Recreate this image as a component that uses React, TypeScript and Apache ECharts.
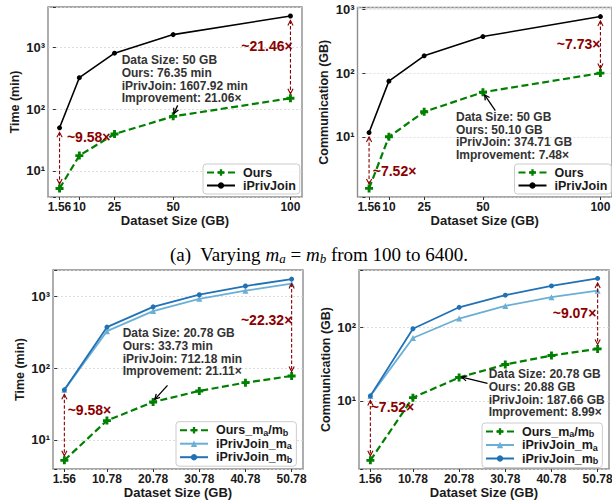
import React, { useEffect, useRef } from 'react';
import * as echarts from 'echarts';

const FONT = 'Liberation Sans, Arial, Helvetica, sans-serif';
const SERIF = 'Liberation Serif, Times New Roman, serif';

// ---------- data ----------
const sizesTop = [1.56, 10, 25, 50, 100];
const timeOursTop = [5.2, 17.7, 39.5, 76.35, 150];
const timeIPrivTop = [49.8, 323, 805, 1607.92, 3220];
const commOursTop = [1.55, 10.0, 24.7, 50.1, 100];
const commIPrivTop = [11.66, 74.8, 187, 374.71, 773];

const sizesBottom = [1.56, 10.78, 20.78, 30.78, 40.78, 50.78];
const timeOursBottom = [5.2, 18.6, 33.73, 48.1, 62.8, 77.8];
const timeIPrivMaBottom = [49.8, 327, 622, 922, 1197, 1496];
const timeIPrivMbBottom = [49.8, 372, 712.18, 1052, 1390, 1737];
const commOursBottom = [1.56, 11.1, 20.88, 31.3, 41.5, 51];
const commIPrivMaBottom = [11.73, 71.7, 132, 196, 258, 316];
const commIPrivMbBottom = [11.73, 96, 187.66, 274, 366, 463];

const ratioTimeTop = ['~9.58×', '~21.46×'];
const ratioCommTop = ['~7.52×', '~7.73×'];
const ratioTimeBottom = ['~9.58×', '~22.32×'];
const ratioCommBottom = ['~7.52×', '~9.07×'];

const infoTimeTop = ['Data Size: 50 GB', 'Ours: 76.35 min', 'iPrivJoin: 1607.92 min', 'Improvement: 21.06×'];
const infoCommTop = ['Data Size: 50 GB', 'Ours: 50.10 GB', 'iPrivJoin: 374.71 GB', 'Improvement: 7.48×'];
const infoTimeBottom = ['Data Size: 20.78 GB', 'Ours: 33.73 min', 'iPrivJoin: 712.18 min', 'Improvement: 21.11×'];
const infoCommBottom = ['Data Size: 20.78 GB', 'Ours: 20.88 GB', 'iPrivJoin: 187.66 GB', 'Improvement: 8.99×'];

const legendTop = ['Ours', 'iPrivJoin'];
const legendBottom = ['Ours_ma/mb', 'iPrivJoin_ma', 'iPrivJoin_mb'];

// ---------- styles ----------
const GREEN = '#008000';
const BLACK = '#000000';
const LIGHT_BLUE = '#6baed6';
const DARK_BLUE = '#2171b5';
const RED = '#8b0000';
const TEXT = '#1a1a1a';
const PLUS = 'path://M3.2,0H6.8V3.2H10V6.8H6.8V10H3.2V6.8H0V3.2H3.2Z';

const styleOf: Record<string, any> = {
  ours: { color: GREEN, symbol: PLUS, symbolSize: 8, lineType: [7, 3.5], width: 2.2 },
  black: { color: BLACK, symbol: 'circle', symbolSize: 5, lineType: 'solid', width: 1.6 },
  ma: { color: LIGHT_BLUE, symbol: 'triangle', symbolSize: 6, lineType: 'solid', width: 1.8 },
  mb: { color: DARK_BLUE, symbol: 'circle', symbolSize: 5, lineType: 'solid', width: 1.8 },
};

const panels = [
  {
    grid: { left: 48, top: 7, width: 254, height: 190 },
    xs: sizesTop, xMin: -3.36, xMax: 104.92, yMin: 3.78, yMax: 4500, yName: 'Time (min)',
    series: [
      { name: 'Ours', data: timeOursTop, kind: 'ours' },
      { name: 'iPrivJoin', data: timeIPrivTop, kind: 'black' },
    ],
    ours: timeOursTop, ipriv: timeIPrivTop, ratio: ratioTimeTop,
    leftOff: [7.4, 9], rightOff: [2.3, 30],
    info: infoTimeTop, infoIdx: 3, infoPos: [73.7, 53.3], infoLH: 12.7,
    tipOff: [0.8, -3], tailOff: [4.5, -11],
    legendPos: [203, 164], legendLH: 11, legendNames: legendTop,
  },
  {
    grid: { left: 357.5, top: 7.5, width: 254.5, height: 189.5 },
    xs: sizesTop, xMin: -3.36, xMax: 104.92, yMin: 1.135, yMax: 1072, yName: 'Communication (GB)',
    series: [
      { name: 'Ours', data: commOursTop, kind: 'ours' },
      { name: 'iPrivJoin', data: commIPrivTop, kind: 'black' },
    ],
    ours: commOursTop, ipriv: commIPrivTop, ratio: ratioCommTop,
    leftOff: [3.7, 38.4], rightOff: [0, 27.3],
    info: infoCommTop, infoIdx: 3, infoPos: [98.5, 109.2], infoLH: 12.8,
    tipOff: [1.7, 2.6], tailOff: [12.4, 18.3],
    legendPos: [514.5, 164], legendLH: 11, legendNames: legendTop,
  },
  {
    grid: { left: 53, top: 270, width: 250, height: 199 },
    xs: sizesBottom, xMin: -0.901, xMax: 53.241, yMin: 3.94, yMax: 2323, yName: 'Time (min)',
    series: [
      { name: 'Ours_ma/mb', data: timeOursBottom, kind: 'ours' },
      { name: 'iPrivJoin_ma', data: timeIPrivMaBottom, kind: 'ma' },
      { name: 'iPrivJoin_mb', data: timeIPrivMbBottom, kind: 'mb' },
    ],
    ours: timeOursBottom, ipriv: timeIPrivMbBottom, ratio: ratioTimeBottom,
    leftOff: [3.3, 20], rightOff: [0.7, 41],
    info: infoTimeBottom, infoIdx: 2, infoPos: [69.7, 63.3], infoLH: 12.6,
    tipOff: [1.7, -2.7], tailOff: [14.4, -16.7],
    legendPos: [176, 421.7], legendLH: 12, legendNames: legendBottom,
  },
  {
    grid: { left: 359, top: 270, width: 250, height: 199 },
    xs: sizesBottom, xMin: -0.901, xMax: 53.241, yMin: 1.19, yMax: 603, yName: 'Communication (GB)',
    series: [
      { name: 'Ours_ma/mb', data: commOursBottom, kind: 'ours' },
      { name: 'iPrivJoin_ma', data: commIPrivMaBottom, kind: 'ma' },
      { name: 'iPrivJoin_mb', data: commIPrivMbBottom, kind: 'mb' },
    ],
    ours: commOursBottom, ipriv: commIPrivMbBottom, ratio: ratioCommBottom,
    leftOff: [0.3, 11], rightOff: [-1.3, 34.3],
    info: infoCommBottom, infoIdx: 2, infoPos: [129.7, 104.3], infoLH: 12.7,
    tipOff: [2.7, -0.3], tailOff: [28.4, 6],
    legendPos: [482, 423], legendLH: 12, legendNames: legendBottom,
  },
];

const SUP: Record<number, string> = { 0: '⁰', 1: '¹', 2: '²', 3: '³', 4: '⁴' };

function arrowHead(tip: number[], from: number[], len: number, half: number, color: string, lw: number) {
  const dx = tip[0] - from[0];
  const dy = tip[1] - from[1];
  const d = Math.sqrt(dx * dx + dy * dy) || 1;
  const ux = dx / d, uy = dy / d;
  const bx = tip[0] - ux * len, by = tip[1] - uy * len;
  return {
    type: 'polyline',
    shape: { points: [[bx - uy * half, by + ux * half], [tip[0], tip[1]], [bx + uy * half, by - ux * half]] },
    style: { stroke: color, lineWidth: lw, fill: null },
  };
}

function buildOption() {
  const grid: any[] = [];
  const xAxis: any[] = [];
  const yAxis: any[] = [];
  const series: any[] = [];
  const legend: any[] = [];

  panels.forEach((p, i) => {
    grid.push({
      ...p.grid, show: true, borderColor: '#8c8c8c', borderWidth: 1.4,
      backgroundColor: 'transparent', containLabel: false, outerBoundsMode: 'none',
    });
    xAxis.push({
      type: 'value', gridIndex: i, min: p.xMin, max: p.xMax,
      name: 'Dataset Size (GB)', nameLocation: 'middle', nameGap: 16,
      nameTextStyle: { fontFamily: FONT, fontWeight: 'bold', fontSize: 13, color: TEXT },
      axisLine: { show: false },
      axisTick: { show: true, customValues: p.xs, length: 3, lineStyle: { color: '#333', width: 1 } },
      axisLabel: {
        customValues: p.xs, margin: 4, fontFamily: FONT, fontWeight: 'bold', fontSize: 12, color: TEXT,
        formatter: (v: number) => String(v), hideOverlap: false,
      },
      splitLine: { show: false },
    });
    yAxis.push({
      type: 'log', logBase: 10, gridIndex: i, min: p.yMin, max: p.yMax,
      name: p.yName, nameLocation: 'middle', nameGap: 27,
      nameTextStyle: { fontFamily: FONT, fontWeight: 'bold', fontSize: 12.5, color: TEXT },
      axisLine: { show: false },
      axisTick: { show: true, length: 3, lineStyle: { color: '#333', width: 1 } },
      axisLabel: {
        margin: 3, fontFamily: FONT, fontWeight: 'bold', fontSize: 13, color: TEXT,
        showMinLabel: true, showMaxLabel: true,
        formatter: (v: number) => {
          const l = Math.log10(v);
          const e = Math.round(l);
          return Math.abs(l - e) < 1e-6 ? '10' + SUP[e] : '';
        },
      },
      splitLine: { show: true, lineStyle: { color: '#d4d4d4', width: 0.8, type: [2, 2] } },
    });
    p.series.forEach((s) => {
      const st = styleOf[s.kind];
      series.push({
        type: 'line', name: s.name, xAxisIndex: i, yAxisIndex: i,
        data: p.xs.map((x, k) => [x, s.data[k]]),
        symbol: st.symbol, symbolSize: st.symbolSize, showSymbol: true,
        itemStyle: { color: st.color },
        lineStyle: { color: st.color, width: st.width, type: st.lineType },
        z: s.kind === 'ours' ? 4 : 3,
      });
    });
    series.push({
      type: 'custom', xAxisIndex: i, yAxisIndex: i, silent: true, z: 6,
      data: [[p.xs[0], p.ours[0]]],
      renderItem: (params: any, api: any) => {
        const cs = params.coordSys;
        const children: any[] = [];
        [0, p.xs.length - 1].forEach((idx, side) => {
          const pt = api.coord([p.xs[idx], p.ipriv[idx]]);
          const pb = api.coord([p.xs[idx], p.ours[idx]]);
          const x = pt[0];
          const y1 = pt[1] + 4.5;
          const y2 = pb[1] - 4.5;
          children.push({
            type: 'line', shape: { x1: x, y1, x2: x, y2 },
            style: { stroke: RED, lineWidth: 1.1, lineDash: [3.5, 2] },
          });
          children.push(arrowHead([x, y1], [x, y2], 5, 2.6, RED, 1.1));
          children.push(arrowHead([x, y2], [x, y1], 5, 2.6, RED, 1.1));
          const off = side === 0 ? p.leftOff : p.rightOff;
          children.push({
            type: 'text', x: x + off[0], y: pt[1] + off[1],
            style: {
              text: p.ratio[side], fill: RED, font: 'bold 14px ' + FONT,
              align: side === 0 ? 'left' : 'right', verticalAlign: 'middle',
            },
          });
        });
        const po = api.coord([p.xs[p.infoIdx], p.ours[p.infoIdx]]);
        const tip = [po[0] + p.tipOff[0], po[1] + p.tipOff[1]];
        const tail = [po[0] + p.tailOff[0], po[1] + p.tailOff[1]];
        children.push({
          type: 'line', shape: { x1: tail[0], y1: tail[1], x2: tip[0], y2: tip[1] },
          style: { stroke: '#000', lineWidth: 1.3 },
        });
        children.push(arrowHead(tip, tail, 5, 2.6, '#000', 1.3));
        p.info.forEach((line, li) => {
          children.push({
            type: 'text', x: cs.x + p.infoPos[0], y: cs.y + p.infoPos[1] + li * p.infoLH,
            style: {
              text: line, fill: '#333', font: 'bold 12px ' + FONT,
              align: 'left', verticalAlign: 'middle',
            },
          });
        });
        return { type: 'group', children };
      },
    });
    legend.push({
      left: p.legendPos[0], top: p.legendPos[1], orient: 'vertical',
      data: p.legendNames, itemWidth: 28, itemHeight: 8, itemGap: 0,
      padding: [2, 4, 2, 3], borderColor: '#cccccc', borderWidth: 1, borderRadius: 3,
      backgroundColor: 'rgba(255,255,255,0.85)', selectedMode: false,
      formatter: (name: string) => name.replace(/m([ab])(?=\/|$)/g, 'm{s|$1}'),
      textStyle: {
        fontFamily: FONT, fontWeight: 'bold', fontSize: 12.5, color: TEXT, lineHeight: p.legendLH,
        padding: [0, 0, 0, 3],
        rich: { s: { fontFamily: FONT, fontWeight: 'bold', fontSize: 9, color: TEXT, padding: [5, 0, 0, 0] } },
      },
    });
  });

  return {
    animation: false,
    backgroundColor: '#ffffff',
    grid, xAxis, yAxis, series, legend,
    graphic: [
      {
        type: 'text', x: 170, y: 254,
        style: {
          text: '(a)  Varying {i|m}{s|a} = {i|m}{s|b} from 100 to 6400.',
          font: '19px ' + SERIF, fill: '#000', align: 'left', verticalAlign: 'middle',
          rich: {
            i: { font: 'italic 19px ' + SERIF },
            s: { font: 'italic 13px ' + SERIF, padding: [8, 0, 0, 0] },
          },
        },
      },
    ],
  };
}

export default function App() {
  const ref = useRef<HTMLDivElement>(null);
  useEffect(() => {
    if (!ref.current) return;
    const chart = echarts.init(ref.current, undefined, { renderer: 'svg' });
    chart.setOption(buildOption() as any);
    return () => chart.dispose();
  }, []);
  return <div ref={ref} style={{ position: 'fixed', left: 0, top: 0, width: 612, height: 504 }} />;
}
